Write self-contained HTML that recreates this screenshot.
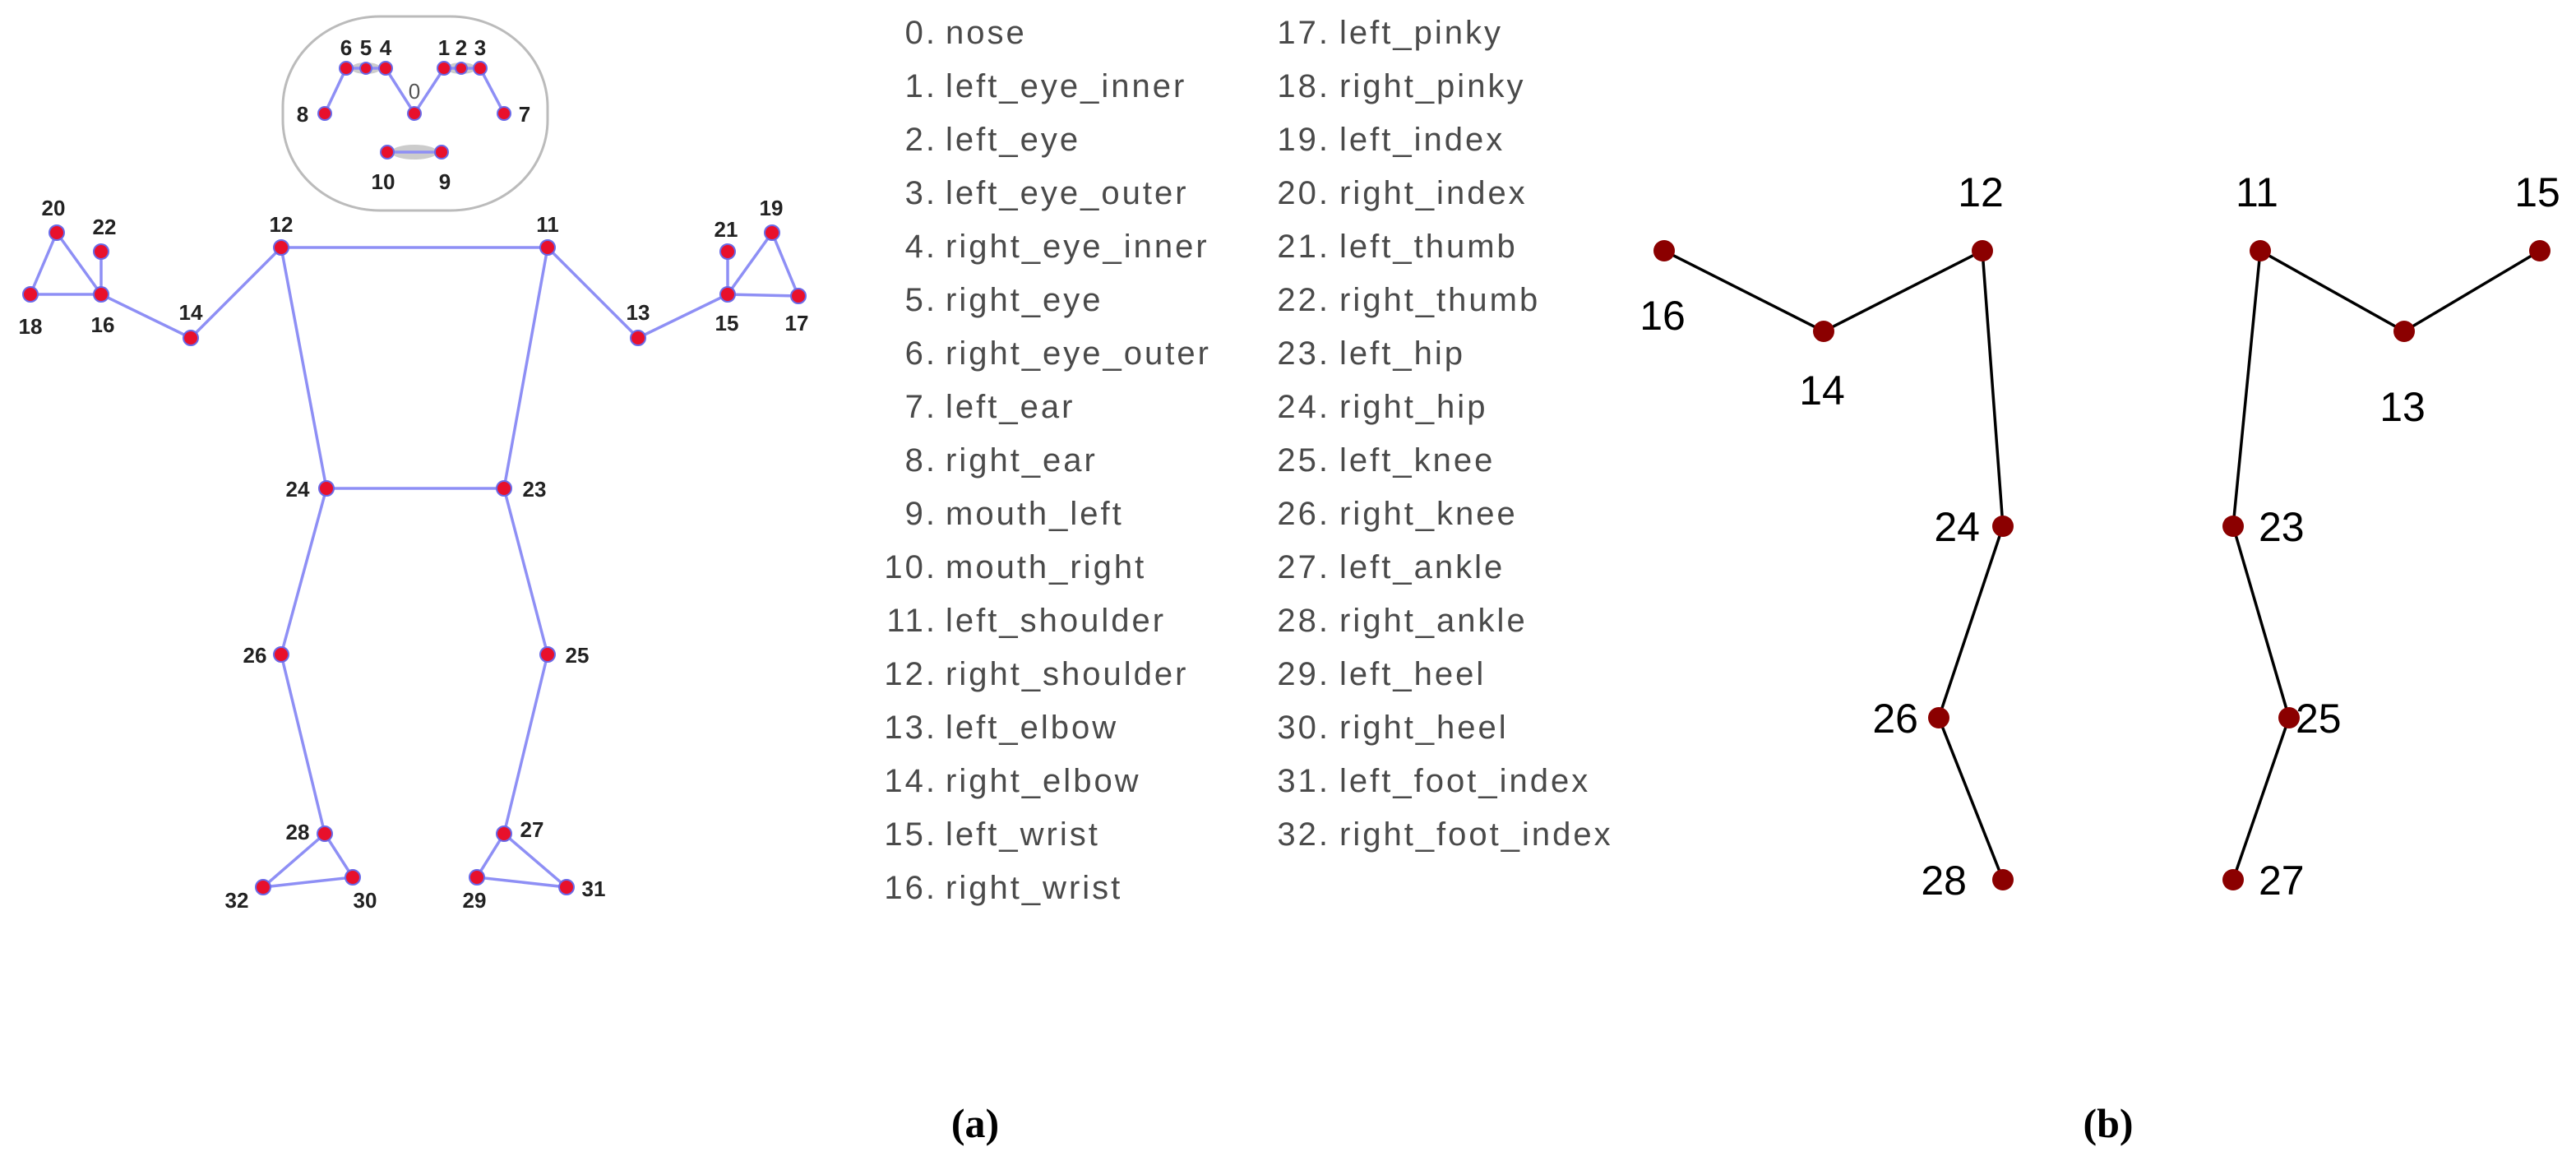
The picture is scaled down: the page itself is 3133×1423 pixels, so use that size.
<!DOCTYPE html>
<html><head><meta charset="utf-8"><style>
html,body{margin:0;padding:0;background:#fff;}
svg{display:block;}
.hl{font-family:"Liberation Sans",sans-serif;font-weight:bold;font-size:26px;fill:#222;}
.lst{font-family:"Liberation Sans",sans-serif;font-size:40px;fill:#4a4a4a;letter-spacing:3px;}
.rl{font-family:"Liberation Sans",sans-serif;font-size:50px;fill:#000;}
.cap{font-family:"Liberation Serif",serif;font-weight:bold;font-size:50px;fill:#000;}
</style></head><body>
<svg width="3133" height="1423" viewBox="0 0 3133 1423" xmlns="http://www.w3.org/2000/svg">
<rect width="3133" height="1423" fill="#fff"/>
<rect x="344" y="20" width="322" height="236" rx="118" ry="110" fill="#fff" stroke="#bbb" stroke-width="3"/>
<ellipse cx="445" cy="83" rx="18" ry="7" fill="#ccc"/>
<ellipse cx="561" cy="83" rx="18" ry="7" fill="#ccc"/>
<ellipse cx="504" cy="185" rx="28" ry="9" fill="#ccc"/>
<g stroke="#8e8ff5" stroke-width="3.5" fill="none">
<polyline points="395,138 421,83 469,83 504,138 540,83 584,83 613,138"/>
<line x1="471" y1="185" x2="537" y2="185"/>
<polyline points="37,358 123,358 232,411 342,301 666,301 776,411 885,358 971,360"/>
<polyline points="37,358 69,283 123,358 123,306"/>
<polyline points="885,306 885,358 939,283 971,360"/>
<polyline points="342,301 397,594 613,594 666,301"/>
<polyline points="397,594 342,796 395,1014 429,1067 320,1079 395,1014"/>
<polyline points="613,594 666,796 613,1014 580,1067 689,1079 613,1014"/>
</g>
<g fill="#e8102c" stroke="#6a6ae8" stroke-width="2">
<circle cx="421" cy="83" r="8"/><circle cx="445" cy="83" r="7"/><circle cx="469" cy="83" r="8"/>
<circle cx="540" cy="83" r="8"/><circle cx="561" cy="83" r="7"/><circle cx="584" cy="83" r="8"/>
<circle cx="395" cy="138" r="8"/><circle cx="504" cy="138" r="8"/><circle cx="613" cy="138" r="8"/>
<circle cx="471" cy="185" r="8"/><circle cx="537" cy="185" r="8"/>
<circle cx="342" cy="301" r="9"/><circle cx="666" cy="301" r="9"/><circle cx="232" cy="411" r="9"/><circle cx="776" cy="411" r="9"/>
<circle cx="123" cy="358" r="9"/><circle cx="37" cy="358" r="9"/><circle cx="69" cy="283" r="9"/><circle cx="123" cy="306" r="9"/>
<circle cx="885" cy="358" r="9"/><circle cx="971" cy="360" r="9"/><circle cx="939" cy="283" r="9"/><circle cx="885" cy="306" r="9"/>
<circle cx="397" cy="594" r="9"/><circle cx="613" cy="594" r="9"/><circle cx="342" cy="796" r="9"/><circle cx="666" cy="796" r="9"/>
<circle cx="395" cy="1014" r="9"/><circle cx="429" cy="1067" r="9"/><circle cx="320" cy="1079" r="9"/>
<circle cx="613" cy="1014" r="9"/><circle cx="580" cy="1067" r="9"/><circle cx="689" cy="1079" r="9"/>
</g>
<g class="hl" text-anchor="middle">
<text x="421" y="67">6</text><text x="445" y="67">5</text><text x="469" y="67">4</text>
<text x="540" y="67">1</text><text x="561" y="67">2</text><text x="584" y="67">3</text>
<text x="504" y="120" font-weight="normal" fill="#555">0</text>
<text x="368" y="148">8</text><text x="638" y="148">7</text>
<text x="466" y="230">10</text><text x="541" y="230">9</text>
<text x="342" y="282">12</text><text x="666" y="282">11</text>
<text x="232" y="389">14</text><text x="776" y="389">13</text>
<text x="125" y="404">16</text><text x="37" y="406">18</text><text x="65" y="262">20</text><text x="127" y="285">22</text>
<text x="883" y="288">21</text><text x="938" y="262">19</text><text x="884" y="402">15</text><text x="969" y="402">17</text>
<text x="362" y="604">24</text><text x="650" y="604">23</text>
<text x="310" y="806">26</text><text x="702" y="806">25</text>
<text x="362" y="1021">28</text><text x="647" y="1018">27</text>
<text x="288" y="1104">32</text><text x="444" y="1104">30</text><text x="577" y="1104">29</text><text x="722" y="1090">31</text>
</g>
<g class="lst">
<g text-anchor="end">
<text x="1140" y="53">0.</text><text x="1140" y="118">1.</text><text x="1140" y="183">2.</text><text x="1140" y="248">3.</text>
<text x="1140" y="313">4.</text><text x="1140" y="378">5.</text><text x="1140" y="443">6.</text><text x="1140" y="508">7.</text>
<text x="1140" y="573">8.</text><text x="1140" y="638">9.</text><text x="1140" y="703">10.</text><text x="1140" y="768">11.</text>
<text x="1140" y="833">12.</text><text x="1140" y="898">13.</text><text x="1140" y="963">14.</text><text x="1140" y="1028">15.</text>
<text x="1140" y="1093">16.</text>
<text x="1618" y="53">17.</text><text x="1618" y="118">18.</text><text x="1618" y="183">19.</text><text x="1618" y="248">20.</text>
<text x="1618" y="313">21.</text><text x="1618" y="378">22.</text><text x="1618" y="443">23.</text><text x="1618" y="508">24.</text>
<text x="1618" y="573">25.</text><text x="1618" y="638">26.</text><text x="1618" y="703">27.</text><text x="1618" y="768">28.</text>
<text x="1618" y="833">29.</text><text x="1618" y="898">30.</text><text x="1618" y="963">31.</text><text x="1618" y="1028">32.</text>
</g>
<text x="1150" y="53">nose</text><text x="1150" y="118">left_eye_inner</text><text x="1150" y="183">left_eye</text><text x="1150" y="248">left_eye_outer</text>
<text x="1150" y="313">right_eye_inner</text><text x="1150" y="378">right_eye</text><text x="1150" y="443">right_eye_outer</text><text x="1150" y="508">left_ear</text>
<text x="1150" y="573">right_ear</text><text x="1150" y="638">mouth_left</text><text x="1150" y="703">mouth_right</text><text x="1150" y="768">left_shoulder</text>
<text x="1150" y="833">right_shoulder</text><text x="1150" y="898">left_elbow</text><text x="1150" y="963">right_elbow</text><text x="1150" y="1028">left_wrist</text>
<text x="1150" y="1093">right_wrist</text>
<text x="1629" y="53">left_pinky</text><text x="1629" y="118">right_pinky</text><text x="1629" y="183">left_index</text><text x="1629" y="248">right_index</text>
<text x="1629" y="313">left_thumb</text><text x="1629" y="378">right_thumb</text><text x="1629" y="443">left_hip</text><text x="1629" y="508">right_hip</text>
<text x="1629" y="573">left_knee</text><text x="1629" y="638">right_knee</text><text x="1629" y="703">left_ankle</text><text x="1629" y="768">right_ankle</text>
<text x="1629" y="833">left_heel</text><text x="1629" y="898">right_heel</text><text x="1629" y="963">left_foot_index</text><text x="1629" y="1028">right_foot_index</text>
</g>
<g stroke="#000" stroke-width="3.5" fill="none">
<polyline points="2024,305 2218,403 2411,305 2436,640 2358,873 2436,1070"/>
<polyline points="3089,305 2924,403 2749,305 2716,640 2784,873 2716,1070"/>
</g>
<g fill="#8b0000">
<circle cx="2024" cy="305" r="13"/><circle cx="2218" cy="403" r="13"/><circle cx="2411" cy="305" r="13"/>
<circle cx="2436" cy="640" r="13"/><circle cx="2358" cy="873" r="13"/><circle cx="2436" cy="1070" r="13"/>
<circle cx="3089" cy="305" r="13"/><circle cx="2924" cy="403" r="13"/><circle cx="2749" cy="305" r="13"/>
<circle cx="2716" cy="640" r="13"/><circle cx="2784" cy="873" r="13"/><circle cx="2716" cy="1070" r="13"/>
</g>
<g class="rl">
<g text-anchor="middle">
<text x="2409" y="251">12</text><text x="2022" y="401">16</text><text x="2216" y="492">14</text>
<text x="2745" y="251">11</text><text x="3086" y="251">15</text><text x="2922" y="512">13</text>
</g>
<g text-anchor="end"><text x="2408" y="658">24</text><text x="2333" y="891">26</text><text x="2392" y="1088">28</text></g>
<text x="2747" y="658">23</text><text x="2792" y="891">25</text><text x="2747" y="1088">27</text>
</g>
<text class="cap" x="1186" y="1383" text-anchor="middle">(a)</text>
<text class="cap" x="2564" y="1383" text-anchor="middle">(b)</text>
</svg>
</body></html>
